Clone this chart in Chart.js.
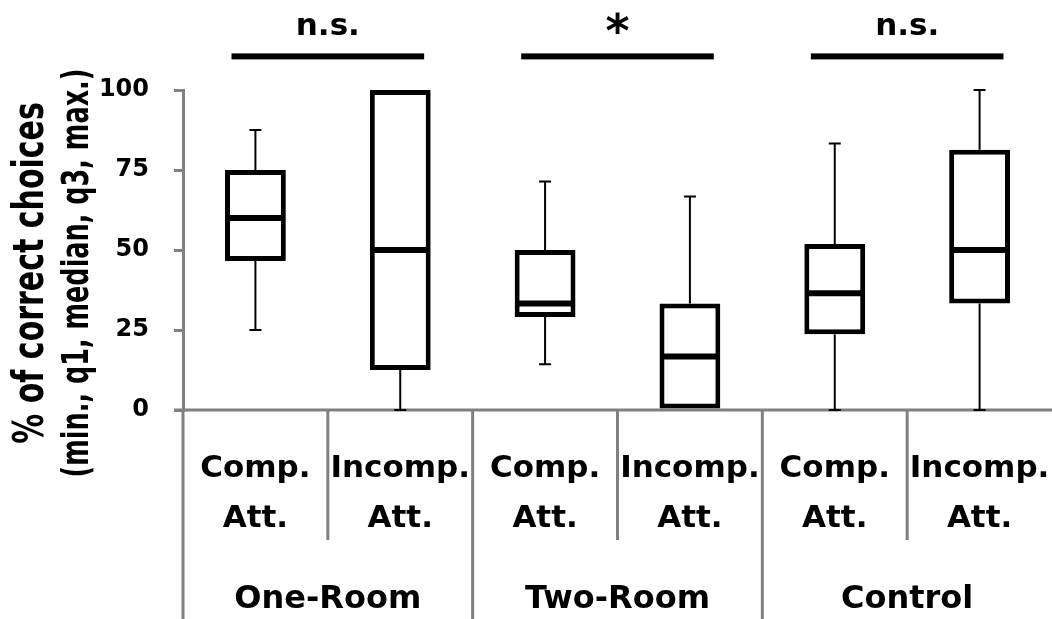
<!DOCTYPE html>
<html>
<head>
<meta charset="utf-8">
<script src="https://cdn.jsdelivr.net/npm/chart.js@4.4.1/dist/chart.umd.min.js"></script>
<style>
    html, body { margin: 0; padding: 0; background: #fff; }
    #wrap { width: 1052px; height: 619px; position: relative; }
</style>
</head>
<body>
<div id="wrap"><canvas id="boxChart"></canvas></div>
<script>
// data
const subLabels = [['Comp.', 'Att.'], ['Incomp.', 'Att.'], ['Comp.', 'Att.'], ['Incomp.', 'Att.'], ['Comp.', 'Att.'], ['Incomp.', 'Att.']];
const groups = ['One-Room', 'Two-Room', 'Control'];
const mins = [25, 0, 14.3, 0, 0, 0];
const q1s = [46.6, 12.5, 29.1, 0, 23.7, 33.3];
const medians = [60, 50, 33.3, 16.7, 36.5, 50];
const q3s = [75, 100, 50, 33.3, 51.9, 81.3];
const maxs = [87.5, 100, 71.4, 66.7, 83.3, 100];
const yTicks = [0, 25, 50, 75, 100];

// significance brackets
const sigPairs = [[0, 1], [2, 3], [4, 5]];
const sigLabels = ['n.s.', '*', 'n.s.'];

const AXIS_GREY = '#808080';
const FONT = 'DejaVu Sans';

Chart.defaults.font.family = FONT;
Chart.defaults.color = '#000';

const boxExtras = {
    id: 'boxExtras',
    beforeDatasetsDraw(chart) {
        const { ctx, chartArea, scales: { x } } = chart;
        const w = x.getPixelForValue(1) - x.getPixelForValue(0);
        ctx.save();
        ctx.strokeStyle = AXIS_GREY;
        ctx.lineWidth = 3;
        // x axis line
        ctx.beginPath();
        ctx.moveTo(chartArea.left - 9, chartArea.bottom);
        ctx.lineTo(chartArea.right, chartArea.bottom);
        ctx.stroke();
        // left edge + separators between categories
        ctx.beginPath();
        ctx.moveTo(chartArea.left, chartArea.bottom);
        ctx.lineTo(chartArea.left, chart.height);
        for (let b = 1; b < subLabels.length; b++) {
            const px = x.getPixelForValue(b) - w / 2;
            ctx.moveTo(px, chartArea.bottom);
            ctx.lineTo(px, b % 2 === 0 ? chart.height : chartArea.bottom + 130);
        }
        ctx.stroke();
        ctx.restore();
    },
    afterDatasetsDraw(chart) {
        const { ctx, scales: { y } } = chart;
        const meta = chart.getDatasetMeta(0);
        ctx.save();
        ctx.strokeStyle = '#000';
        meta.data.forEach((bar, i) => {
            const cx = bar.x;
            const half = bar.width / 2;
            // whiskers
            ctx.lineWidth = 2;
            ctx.beginPath();
            if (maxs[i] > q3s[i]) {
                ctx.moveTo(cx, y.getPixelForValue(q3s[i]));
                ctx.lineTo(cx, y.getPixelForValue(maxs[i]));
                ctx.moveTo(cx - 6, y.getPixelForValue(maxs[i]));
                ctx.lineTo(cx + 6, y.getPixelForValue(maxs[i]));
            }
            if (mins[i] < q1s[i]) {
                ctx.moveTo(cx, y.getPixelForValue(q1s[i]));
                ctx.lineTo(cx, y.getPixelForValue(mins[i]));
                ctx.moveTo(cx - 6, y.getPixelForValue(mins[i]));
                ctx.lineTo(cx + 6, y.getPixelForValue(mins[i]));
            }
            ctx.stroke();
            // median
            ctx.lineWidth = 6;
            ctx.beginPath();
            ctx.moveTo(cx - half + 2, y.getPixelForValue(medians[i]));
            ctx.lineTo(cx + half - 2, y.getPixelForValue(medians[i]));
            ctx.stroke();
        });
        ctx.restore();
    },
    afterDraw(chart) {
        const { ctx, chartArea, scales: { x, y } } = chart;
        const w = x.getPixelForValue(1) - x.getPixelForValue(0);
        ctx.save();
        ctx.fillStyle = '#000';
        ctx.textAlign = 'center';
        ctx.textBaseline = 'alphabetic';

        // category labels
        ctx.font = `bold 31px ${FONT}`;
        subLabels.forEach((lines, i) => {
            const cx = x.getPixelForValue(i);
            ctx.fillText(lines[0], cx, chartArea.bottom + 67);
            ctx.fillText(lines[1], cx, chartArea.bottom + 117);
        });
        ctx.font = `bold 32px ${FONT}`;
        groups.forEach((g, k) => {
            const cx = (x.getPixelForValue(2 * k) + x.getPixelForValue(2 * k + 1)) / 2;
            ctx.fillText(g, cx, chartArea.bottom + 198);
        });

        // significance bars
        sigPairs.forEach(([a, b], k) => {
            const x0 = x.getPixelForValue(a) - 0.165 * w;
            const x1 = x.getPixelForValue(b) + 0.165 * w;
            const ly = y.getPixelForValue(110.5);
            ctx.fillRect(x0, ly - 3, x1 - x0, 6);
            const star = sigLabels[k] === '*';
            ctx.font = star ? `bold 46px ${FONT}` : `bold 31px ${FONT}`;
            ctx.fillText(sigLabels[k], (x0 + x1) / 2, y.getPixelForValue(star ? 113.5 : 117.2));
        });

        // y axis title, two lines, stretched like the original
        const cy = 273;
        ctx.save();
        ctx.translate(43, cy);
        ctx.scale(1.45, 1);
        ctx.rotate(-Math.PI / 2);
        ctx.font = `bold 30px ${FONT}`;
        ctx.fillText('% of correct choices', 0, 0);
        ctx.restore();
        ctx.save();
        ctx.translate(88, cy);
        ctx.scale(1.43, 1);
        ctx.rotate(-Math.PI / 2);
        ctx.font = `bold 25.5px ${FONT}`;
        ctx.fillText('(min., q1, median, q3, max.)', 0, 0);
        ctx.restore();

        ctx.restore();
    }
};

new Chart(document.getElementById('boxChart'), {
    type: 'bar',
    data: {
        labels: subLabels.map(l => l.join(' ')),
        datasets: [{
            data: q1s.map((v, i) => [v, q3s[i]]),
            backgroundColor: '#fff',
            borderColor: '#000',
            borderWidth: 5,
            borderSkipped: false,
            barPercentage: 0.42,
            categoryPercentage: 1,
            clip: false
        }]
    },
    options: {
        responsive: true,
        maintainAspectRatio: false,
        animation: false,
        layout: { padding: { left: 0, top: 90, right: 0, bottom: 209 } },
        plugins: {
            legend: { display: false },
            tooltip: { enabled: false }
        },
        scales: {
            x: { display: false },
            y: {
                min: 0,
                max: 100,
                afterFit: (s) => { s.width = 183; },
                afterBuildTicks: (s) => { s.ticks = yTicks.map(v => ({ value: v })); },
                ticks: {
                    font: { size: 24, weight: 'bold' },
                    color: '#000',
                    padding: 25
                },
                grid: {
                    drawOnChartArea: false,
                    tickLength: 9,
                    color: AXIS_GREY,
                    lineWidth: 3
                },
                border: { display: true, color: AXIS_GREY, width: 3 }
            }
        }
    },
    plugins: [boxExtras]
});
</script>
</body>
</html>
